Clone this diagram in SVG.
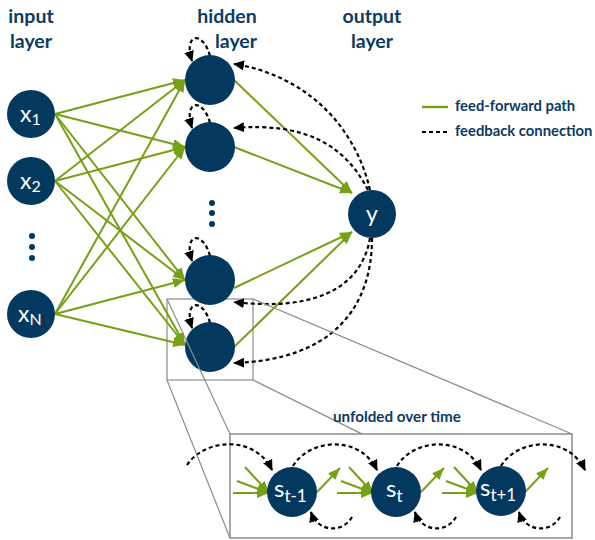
<svg xmlns="http://www.w3.org/2000/svg" width="595" height="540" viewBox="0 0 595 540">
<defs>
<style>
.node{fill:#03385f;}
.lbl{font-family:Lato,"Open Sans",sans-serif;font-weight:bold;fill:#0d3b63;}
.hd{font-size:19.5px;text-anchor:middle;}
.lg{font-size:14.8px;}
.nt{font-family:Lato,"Open Sans",sans-serif;fill:#ffffff;}
.ff{fill:none;stroke:#76a015;stroke-width:2;marker-end:url(#ga);}
.ffl{fill:none;stroke:#76a015;stroke-width:2.4;}
.fb{fill:none;stroke:#000000;stroke-width:2.2;stroke-dasharray:4 3;marker-end:url(#ka);}
.fbl{fill:none;stroke:#000000;stroke-width:2.2;stroke-dasharray:4 3;}
.zm{fill:none;stroke:#8c8c8c;stroke-width:1.2;}
.dot{fill:#03385f;}
</style>
<marker id="ga" markerUnits="userSpaceOnUse" markerWidth="13" markerHeight="11" refX="12" refY="5" orient="auto"><path d="M0,0 L12,5 L0,10 z" fill="#76a015"/></marker>
<marker id="ka" markerUnits="userSpaceOnUse" markerWidth="12" markerHeight="11" refX="10" refY="5" orient="auto"><path d="M0,0 L11,5 L0,10 z" fill="#000000"/></marker>
</defs>

<!-- zoom box (behind nodes) -->
<g id="zoom-box">
<rect class="zm" x="167" y="299" width="86" height="81"/>
<line class="zm" x1="253" y1="380" x2="572" y2="538"/>
<rect x="230" y="434" width="342" height="104" fill="#ffffff" stroke="#8c8c8c" stroke-width="1.5"/>
</g>

<!-- layer labels -->
<g id="labels">
<text class="lbl hd" x="31" y="23">input</text>
<text class="lbl hd" x="31" y="48">layer</text>
<text class="lbl hd" x="227" y="23">hidden</text>
<text class="lbl hd" x="236" y="48">layer</text>
<text class="lbl hd" x="372" y="23">output</text>
<text class="lbl hd" x="372" y="48">layer</text>
<text class="lbl" x="333" y="422" font-size="15.2">unfolded over time</text>
</g>

<!-- legend -->
<g id="legend">
<line class="ffl" x1="422" y1="107" x2="448" y2="107"/>
<text class="lbl lg" x="455" y="111">feed-forward path</text>
<line class="fbl" x1="422" y1="132" x2="448" y2="132"/>
<text class="lbl lg" x="455" y="136">feedback connection</text>
</g>

<!-- connectors -->
<g id="connectors">
<!-- input to hidden -->
<line class="ff" x1="55" y1="114" x2="185" y2="80"/>
<line class="ff" x1="55" y1="114" x2="185" y2="147"/>
<line class="ff" x1="55" y1="114" x2="185" y2="280"/>
<line class="ff" x1="55" y1="114" x2="185" y2="345"/>
<line class="ff" x1="55" y1="181" x2="185" y2="80"/>
<line class="ff" x1="55" y1="181" x2="185" y2="147"/>
<line class="ff" x1="55" y1="181" x2="185" y2="280"/>
<line class="ff" x1="55" y1="181" x2="185" y2="345"/>
<line class="ff" x1="55" y1="314" x2="185" y2="80"/>
<line class="ff" x1="55" y1="314" x2="185" y2="147"/>
<line class="ff" x1="55" y1="314" x2="185" y2="280"/>
<line class="ff" x1="55" y1="314" x2="185" y2="345"/>
<!-- hidden to output -->
<line class="ff" x1="234" y1="80" x2="352" y2="193"/>
<line class="ff" x1="234" y1="147" x2="352" y2="193"/>
<line class="ff" x1="234" y1="288" x2="352" y2="232"/>
<line class="ff" x1="234" y1="347" x2="352" y2="232"/>
<!-- feedback output to hidden -->
<path class="fb" d="M370 190 C355 125 305 75 234 64"/>
<path class="fb" d="M368 190 C345 145 305 122 234 128"/>
<path class="fb" d="M370 238 C362 285 320 312 234 302"/>
<path class="fb" d="M372 238 C372 310 330 360 234 363"/>
<!-- self loops -->
<path class="fb" d="M210 56 C203 30 183 33 192 61"/>
<path class="fb" d="M210 123 C203 97 183 100 192 128"/>
<path class="fb" d="M210 256 C203 230 183 233 192 261"/>
<path class="fb" d="M210 323 C203 297 183 300 192 328"/>
<!-- unfolded: green -->
<line class="ff" x1="245" y1="467" x2="269" y2="493"/>
<line class="ff" x1="237" y1="481" x2="269" y2="493"/>
<line class="ff" x1="233" y1="493" x2="269" y2="493"/>
<line class="ff" x1="317" y1="492" x2="340" y2="468"/>
<line class="ff" x1="349" y1="467" x2="373" y2="493"/>
<line class="ff" x1="341" y1="481" x2="373" y2="493"/>
<line class="ff" x1="337" y1="493" x2="373" y2="493"/>
<line class="ff" x1="421" y1="492" x2="444" y2="468"/>
<line class="ff" x1="454" y1="467" x2="478" y2="493"/>
<line class="ff" x1="446" y1="481" x2="478" y2="493"/>
<line class="ff" x1="442" y1="493" x2="478" y2="493"/>
<line class="ff" x1="525" y1="492" x2="548" y2="468"/>
<!-- unfolded: dashed -->
<path class="fb" d="M187 465 C205 438 255 435 272 470"/>
<path class="fb" d="M293 466 C310 438 360 435 377 470"/>
<path class="fb" d="M397 466 C414 438 464 435 481 470"/>
<path class="fb" d="M501 466 C518 438 568 435 585 470"/>
<path class="fb" d="M352 517 C343 533 318 533 311 512"/>
<path class="fb" d="M456 517 C447 533 422 533 415 512"/>
<path class="fb" d="M560 517 C551 533 526 533 519 512"/>
</g>

<!-- input nodes -->
<g id="x1"><circle class="node" cx="31" cy="114" r="24"/><text class="nt" x="20" y="122" font-size="23">x<tspan font-size="16" dy="3">1</tspan></text></g>
<g id="x2"><circle class="node" cx="31" cy="181" r="24"/><text class="nt" x="20" y="189" font-size="23">x<tspan font-size="16" dy="3">2</tspan></text></g>
<g id="input-dots"><circle class="dot" cx="32" cy="236" r="3"/><circle class="dot" cx="32" cy="247" r="3"/><circle class="dot" cx="32" cy="258" r="3"/></g>
<g id="xN"><circle class="node" cx="31" cy="314" r="24"/><text class="nt" x="18" y="322" font-size="23">x<tspan font-size="16" dy="3">N</tspan></text></g>

<!-- hidden nodes -->
<g id="h1"><circle class="node" cx="210" cy="80" r="25"/></g>
<g id="h2"><circle class="node" cx="210" cy="147" r="25"/></g>
<g id="hidden-dots"><circle class="dot" cx="212" cy="203" r="3"/><circle class="dot" cx="212" cy="213" r="3"/><circle class="dot" cx="212" cy="224" r="3"/></g>
<g id="h3"><circle class="node" cx="210" cy="280" r="25"/></g>
<g id="h4"><circle class="node" cx="210" cy="347" r="25"/></g>

<!-- output node -->
<g id="y"><circle class="node" cx="372" cy="214" r="24"/><text class="nt" x="372" y="222" font-size="23" text-anchor="middle">y</text></g>

<!-- unfolded nodes -->
<g id="s-t-1"><circle class="node" cx="292" cy="492" r="25"/><text class="nt" x="274" y="497" font-size="24">s<tspan font-size="17" dy="5">t-1</tspan></text></g>
<g id="s-t"><circle class="node" cx="396" cy="492" r="25"/><text class="nt" x="386" y="497" font-size="24">s<tspan font-size="17" dy="5">t</tspan></text></g>
<g id="s-t+1"><circle class="node" cx="501" cy="491" r="25"/><text class="nt" x="480" y="496" font-size="24">s<tspan font-size="17" dy="5">t+1</tspan></text></g>

<!-- zoom frustum lines (over nodes) -->
<g id="zoom-lines">
<line class="zm" x1="167" y1="299" x2="230" y2="434"/>
<line class="zm" x1="167" y1="380" x2="230" y2="538"/>
<line class="zm" x1="253" y1="299" x2="572" y2="434"/>
</g>
</svg>
